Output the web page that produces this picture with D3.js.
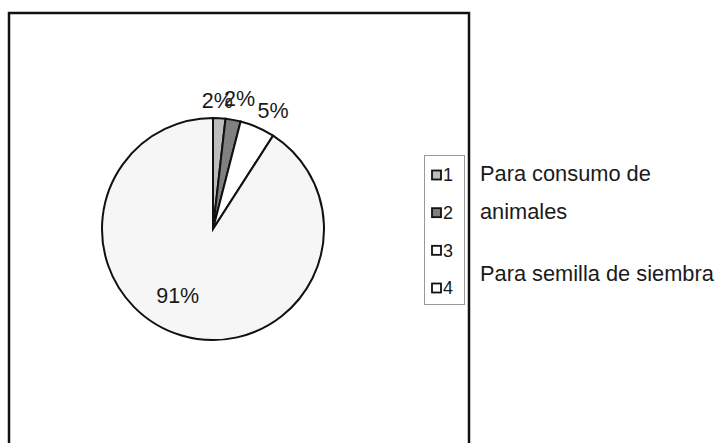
<!DOCTYPE html>
<html><head><meta charset="utf-8">
<script src="https://cdn.jsdelivr.net/npm/d3@7"></script>
<style>body{margin:0;background:#fff}svg{display:block}</style>
</head><body>
<svg id="c" width="717" height="443"></svg>
<script>
const categories = ["1","2","3","4"];
const values = [1.8, 2.2, 5.1, 90.9];
const colors = ["#bdbdbd","#808080","#ffffff","#f6f6f6"];
const sideLabels = ["Para consumo de","animales","Para semilla de siembra"];

const svg = d3.select("#c");
const font = "Liberation Sans, Arial, sans-serif";

// frame
svg.append("path").attr("d","M9,460 V13 H469 V460")
  .attr("fill","none").attr("stroke","#111").attr("stroke-width",2.5);

const cx = 213, cy = 229, r = 111;
const g = svg.append("g").attr("transform",`translate(${cx},${cy})`);
const pie = d3.pie().sort(null).value(d=>d)(values);
const arc = d3.arc().innerRadius(0).outerRadius(r);
g.selectAll("path.s").data(pie).join("path").attr("class","s")
  .attr("d",arc).attr("fill",(d,i)=>colors[i])
  .attr("stroke","#111").attr("stroke-width",2);

const total = d3.sum(values);
const outArc = d3.arc().innerRadius(r*1.17).outerRadius(r*1.17);
const inArc = d3.arc().innerRadius(r*0.68).outerRadius(r*0.68);
const nudge = [[-3,1],[3,-3],[8,0],[-14,-6]];
g.selectAll("text.l").data(pie).join("text").attr("class","l")
  .attr("transform",(d,i)=>{
    const big = (d.endAngle-d.startAngle) > Math.PI;
    let [x,y] = (big?inArc:outArc).centroid(d);
    x += nudge[i][0]; y += nudge[i][1];
    return `translate(${x},${y})`;
  })
  .attr("text-anchor","middle").attr("dy","0.35em")
  .attr("font-family",font).attr("font-size",21.5).attr("fill","#1a1a1a")
  .text(d=>Math.round(d.value/total*100)+"%");

// legend box
svg.append("rect").attr("x",424.5).attr("y",155.5).attr("width",40).attr("height",149)
  .attr("fill","#fff").attr("stroke","#999").attr("stroke-width",1);
const ly = d3.scalePoint().domain(categories).range([175,288]);
const lg = svg.selectAll("g.li").data(categories).join("g").attr("class","li")
  .attr("transform",d=>`translate(431,${ly(d)})`);
lg.append("rect").attr("x",1).attr("y",-4.5).attr("width",9).attr("height",9)
  .attr("fill",(d,i)=>colors[i]==="#f6f6f6"?"#ffffff":colors[i]).attr("stroke","#111").attr("stroke-width",1.8);
lg.append("text").attr("x",12).attr("y",0).attr("dy","0.36em")
  .attr("font-family",font).attr("font-size",18).attr("fill","#1a1a1a").text(d=>d);

// side texts
const sy = [181, 219, 281];
svg.selectAll("text.side").data(sideLabels).join("text").attr("class","side")
  .attr("x",480).attr("y",(d,i)=>sy[i])
  .attr("font-family",font).attr("font-size",21.8).attr("fill","#1a1a1a").text(d=>d);
</script>
</body></html>
